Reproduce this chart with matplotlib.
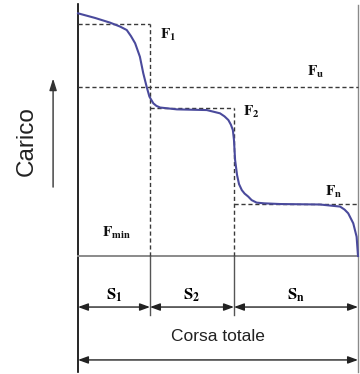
"""Schematic load vs. stroke diagram (Carico / Corsa totale) for a multi-stage spring."""

import matplotlib

matplotlib.use("Agg")
import matplotlib.pyplot as plt

# Curve: stroke (% of total) vs load (F1 = 100)
curve_stroke = [0.0, 6.1, 11.4, 15.0, 17.4, 18.9, 20.4, 22.1, 23.3, 24.5, 25.5, 26.9, 28.0, 29.3,
                35.3, 46.0, 50.7, 52.3, 53.7, 54.6, 55.3, 55.7, 56.1, 56.8, 57.5, 58.5, 59.5,
                60.8, 62.0, 63.8, 66.5, 72.1, 86.4, 93.6, 95.2, 96.5, 98.3, 99.5, 100.0]
curve_load = [104.6, 102.6, 100.6, 98.9, 97.4, 94.8, 91.7, 85.9, 78.8, 73.0, 68.7, 65.8, 64.7, 64.0,
              63.2, 62.9, 61.5, 60.2, 58.6, 56.6, 54.3, 50.0, 41.4, 34.9, 31.0, 28.4, 26.9,
              25.6, 24.1, 23.0, 22.7, 22.4, 22.2, 21.3, 20.0, 18.4, 14.1, 8.3, 0.0]

# characteristic load levels
F1 = 100.0
Fu = 72.8
F2 = 63.7
Fn = 22.4

# stroke segments
stroke_ends = [25.7, 55.7, 100.0]
segment_labels = [r"$\mathbf{S}_{\mathbf{1}}$", r"$\mathbf{S}_{\mathbf{2}}$", r"$\mathbf{S}_{\mathbf{n}}$"]

plt.rcParams["mathtext.fontset"] = "stix"
plt.rcParams["font.family"] = ["Liberation Sans", "DejaVu Sans"]

CURVE = "#4a4a9c"
DASH = "#3a3a3a"
GREY = "#8a8a8a"

fig = plt.figure(figsize=(3.6, 3.74), dpi=100)
ax = fig.add_axes([0, 0, 1, 1])
ax.set_xlim(-27.86, 100.71)
ax.set_ylim(-50.86, 110.34)
ax.axis("off")

dash_kw = dict(color=DASH, lw=1.0, ls=(0, (3, 2)))

# frame lines
ax.plot([0, 0], [-50.0, 108.6], color="black", lw=1.2)
ax.plot([100, 100], [-50.0, 108.2], color=GREY, lw=1.0)
ax.plot([0, 100], [0, 0], color=GREY, lw=1.4)

# reference dashed lines
s1, s2, total = stroke_ends
ax.plot([0, s1], [F1, F1], **dash_kw)
ax.plot([s1, s1], [0, F1], **dash_kw)
ax.plot([0, 100], [Fu, Fu], **dash_kw)
ax.plot([s1, s2], [F2, F2], **dash_kw)
ax.plot([s2, s2], [0, F2], **dash_kw)
ax.plot([s2, total], [Fn, Fn], **dash_kw)

# solid segment separators below the baseline
for xs in (s1, s2):
    ax.plot([xs, xs], [-25.4, 0], color="#555555", lw=1.0)

# characteristic curve
ax.plot(curve_stroke, curve_load, color=CURVE, lw=1.5, solid_joinstyle="round")

# dimension arrows
arrow_kw = dict(arrowstyle="<|-|>,head_length=0.6,head_width=0.22", color="#222222",
                lw=1.0, shrinkA=0, shrinkB=0, mutation_scale=10)
starts = [0.0] + stroke_ends[:-1]
for a, b, lab in zip(starts, stroke_ends, segment_labels):
    ax.annotate("", xy=(b, -22.0), xytext=(a, -22.0), arrowprops=arrow_kw)
    ax.text((a + b) / 2, -16.8, lab, ha="center", va="center", fontsize=12)
ax.annotate("", xy=(total, -44.8), xytext=(0, -44.8), arrowprops=arrow_kw)
ax.text(50, -34.9, "Corsa totale", ha="center", va="center", fontsize=12.5, color="#222222")

# load axis label
ax.annotate("", xy=(-8.9, 76.5), xytext=(-8.9, 29.7),
            arrowprops=dict(arrowstyle="-|>,head_length=0.7,head_width=0.22", color="#333333",
                            lw=1.0, shrinkA=0, shrinkB=0, mutation_scale=10))
ax.text(-18.2, 49.5, "Carico", rotation=90, ha="center", va="center", fontsize=17.5, color="#222222")

# level labels
lab_kw = dict(fontsize=11, va="center", ha="left", color="#111111")
ax.text(29.3, 95.3, r"$\mathbf{F}_{\mathbf{1}}$", **lab_kw)
ax.text(81.8, 79.3, r"$\mathbf{F}_{\mathbf{u}}$", **lab_kw)
ax.text(58.9, 62.0, r"$\mathbf{F}_{\mathbf{2}}$", **lab_kw)
ax.text(88.2, 27.6, r"$\mathbf{F}_{\mathbf{n}}$", **lab_kw)
ax.text(8.6, 9.9, r"$\mathbf{F}_{\mathbf{min}}$", **lab_kw)

fig.savefig("out.png", dpi=100)
plt.close(fig)
